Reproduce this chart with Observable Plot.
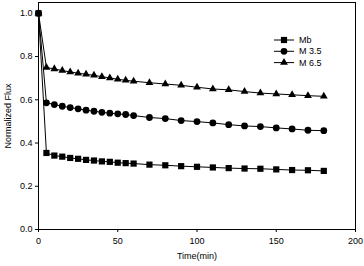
<!DOCTYPE html>
<html>
<head>
<meta charset="utf-8">
<script src="https://cdn.jsdelivr.net/npm/d3@7"></script>
<script src="https://cdn.jsdelivr.net/npm/@observablehq/plot@0.6"></script>
<style>
  html, body { margin: 0; padding: 0; background: #fff; }
  #wrap { position: relative; width: 364px; height: 266px; }
  #legend { position: absolute; left: 0; top: 0; pointer-events: none; }
</style>
</head>
<body>
<div id="wrap"></div>
<script>
const time = [0, 5, 10, 15, 20, 25, 30, 35, 40, 45, 50, 55, 60, 70, 80, 90, 100, 110, 120, 130, 140, 150, 160, 170, 180];
const mb   = [1.0, 0.354, 0.342, 0.337, 0.331, 0.327, 0.322, 0.319, 0.315, 0.313, 0.309, 0.307, 0.305, 0.300, 0.297, 0.293, 0.290, 0.287, 0.284, 0.282, 0.281, 0.278, 0.275, 0.274, 0.271];
const m35  = [1.0, 0.586, 0.578, 0.570, 0.564, 0.558, 0.552, 0.547, 0.542, 0.538, 0.535, 0.532, 0.527, 0.518, 0.513, 0.504, 0.499, 0.493, 0.485, 0.479, 0.476, 0.470, 0.465, 0.459, 0.457];
const m65  = [1.0, 0.749, 0.743, 0.735, 0.729, 0.723, 0.718, 0.713, 0.707, 0.701, 0.695, 0.690, 0.686, 0.679, 0.673, 0.667, 0.658, 0.650, 0.646, 0.638, 0.631, 0.627, 0.623, 0.619, 0.616];
const seriesNames = ["Mb", "M 3.5", "M 6.5"];
const seriesSymbols = ["square", "circle", "triangle"];
const xTicks = [0, 50, 100, 150, 200];
const yTicks = [0.0, 0.2, 0.4, 0.6, 0.8, 1.0];

const markerR = [3.5, 3.4, 2.9];

const allSeries = [mb, m35, m65];
const data = [];
allSeries.forEach((vals, s) => {
  vals.forEach((v, i) => data.push({t: time[i], v, series: seriesNames[s]}));
});

const font = "'Liberation Sans', Arial, sans-serif";

const chart = Plot.plot({
  width: 364,
  height: 266,
  marginLeft: 38,
  marginRight: 9,
  marginTop: 2,
  marginBottom: 37,
  style: {fontFamily: font, fontSize: "9px", color: "#000", background: "#fff"},
  x: {domain: [0, 200]},
  y: {domain: [0, 1.05]},
  symbol: {domain: seriesNames, range: seriesSymbols},
  marks: [
    Plot.frame({stroke: "#000", strokeWidth: 1}),
    Plot.axisX({ticks: xTicks, tickSize: 3, tickPadding: 5, tickFormat: d => String(d), label: "Time(min)", labelAnchor: "center", labelArrow: false, labelOffset: 29}),
    Plot.axisY({ticks: yTicks, tickSize: 3, tickPadding: 3, tickFormat: d3.format(".1f"), label: "Normalized Flux", labelAnchor: "center", labelArrow: false, labelOffset: 34}),
    Plot.line(data, {x: "t", y: "v", z: "series", stroke: "#000", strokeWidth: 1}),
    ...seriesNames.map((name, s) =>
      Plot.dot(data.filter(d => d.series === name), {x: "t", y: "v", symbol: "series", fill: "#000", stroke: "none", r: markerR[s]}))
  ]
});

document.getElementById("wrap").appendChild(chart);

// Legend overlay
const leg = d3.select("#wrap").append("svg")
  .attr("id", "legend").attr("width", 364).attr("height", 266);
const legX0 = 274, legX1 = 294, legTextX = 299, legY0 = 40, legDy = 11.3;
const d3sym = {square: d3.symbolSquare, circle: d3.symbolCircle, triangle: d3.symbolTriangle};
seriesNames.forEach((name, i) => {
  const y = legY0 + i * legDy;
  leg.append("line").attr("x1", legX0).attr("x2", legX1).attr("y1", y).attr("y2", y)
    .attr("stroke", "#000").attr("stroke-width", 1);
  leg.append("path").attr("transform", `translate(${(legX0 + legX1) / 2},${y})`)
    .attr("d", d3.symbol(d3sym[seriesSymbols[i]], markerR[i] * markerR[i] * Math.PI)())
    .attr("fill", "#000");
  leg.append("text").attr("x", legTextX).attr("y", y).attr("dy", "0.35em")
    .attr("font-family", font).attr("font-size", "9px").attr("fill", "#000").text(name);
});
</script>
</body>
</html>
